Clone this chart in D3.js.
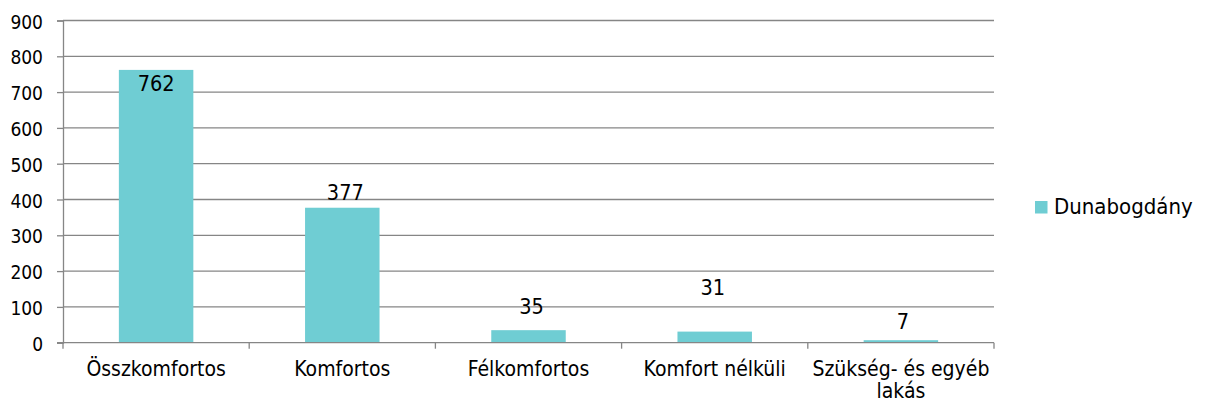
<!DOCTYPE html>
<html>
<head>
<meta charset="utf-8">
<script src="https://cdn.jsdelivr.net/npm/d3@7"></script>
<style>
  html, body { margin: 0; padding: 0; background: #fff; }
  svg { display: block; }
  text { font-family: "DejaVu Sans Condensed", "DejaVu Sans", sans-serif; font-stretch: condensed; fill: #000; }
</style>
</head>
<body>
<div id="chart"></div>
<script>
// Lakásállomány komfortfokozat szerint
const categories = ["Összkomfortos", "Komfortos", "Félkomfortos", "Komfort nélküli", "Szükség- és egyéb lakás"];
const values = [762, 377, 35, 31, 7];
const seriesName = "Dunabogdány";
const yTicks = [0, 100, 200, 300, 400, 500, 600, 700, 800, 900];

// label nudges (px) relative to the bar top, as placed in the source layout
const labelDx = [0, 3, 3, -2, 2];
const labelDy = [13, -15, -24, -44, -19];

const W = 1206, H = 403;
const plot = { left: 63, right: 994, top: 20.5, bottom: 342.7 };
const barColor = "#6fcdd3";
const axisColor = "#868686";

const svg = d3.select("#chart").append("svg")
  .attr("width", W).attr("height", H);

const x = d3.scaleBand(categories, [plot.left, plot.right])
  .paddingInner(0.6).paddingOuter(0.3);
const y = d3.scaleLinear([0, 900], [plot.bottom, plot.top]);

// horizontal gridlines
svg.append("g")
  .selectAll("line").data(yTicks.filter(t => t > 0)).join("line")
  .attr("x1", plot.left).attr("x2", plot.right)
  .attr("y1", d => y(d)).attr("y2", d => y(d))
  .attr("stroke", axisColor).attr("stroke-width", 1.3);

// bars
svg.append("g")
  .selectAll("rect").data(values).join("rect")
  .attr("x", (d, i) => x(categories[i]))
  .attr("width", x.bandwidth())
  .attr("y", d => y(d))
  .attr("height", d => y(0) - y(d))
  .attr("fill", barColor);

// y axis
const yAxis = d3.axisLeft(y).tickValues(yTicks).tickSize(6).tickPadding(14).tickFormat(d3.format("d"));
const gy = svg.append("g").attr("transform", `translate(${plot.left},0)`).call(yAxis);
gy.select(".domain").attr("stroke", axisColor).attr("stroke-width", 1.3);
gy.selectAll(".tick line").attr("stroke", axisColor).attr("stroke-width", 1.3);
gy.selectAll(".tick text").attr("font-size", 19).attr("dy", "0.4em")
  .attr("font-family", null).attr("fill", "#000");
gy.attr("font-family", null).attr("font-size", null);

// x axis line and category boundary ticks
const edges = categories.map(c => x(c) - x.step() * x.paddingOuter()).concat([plot.right]);
svg.append("line")
  .attr("x1", plot.left - 6).attr("x2", plot.right)
  .attr("y1", y(0)).attr("y2", y(0))
  .attr("stroke", axisColor).attr("stroke-width", 1.3);
svg.append("g").selectAll("line").data(edges).join("line")
  .attr("x1", d => d).attr("x2", d => d)
  .attr("y1", y(0)).attr("y2", y(0) + 6)
  .attr("stroke", axisColor).attr("stroke-width", 1.3);

// category labels, wrapped to the category width
const catG = svg.append("g");
categories.forEach(c => {
  const cx = x(c) + x.bandwidth() / 2;
  const t = catG.append("text")
    .attr("x", cx)
    .attr("y", 375.5)
    .attr("text-anchor", "middle")
    .attr("font-size", 21);
  const words = c.split(" ");
  let line = [];
  let tspan = t.append("tspan").attr("x", cx).attr("dy", 0);
  words.forEach(w => {
    line.push(w);
    tspan.text(line.join(" "));
    if (tspan.node().getComputedTextLength() > x.step() - 6 && line.length > 1) {
      line.pop();
      tspan.text(line.join(" "));
      line = [w];
      tspan = t.append("tspan").attr("x", cx).attr("dy", 22).text(w);
    }
  });
});

// value labels
svg.append("g")
  .selectAll("text").data(values).join("text")
  .attr("x", (d, i) => x(categories[i]) + x.bandwidth() / 2 + labelDx[i])
  .attr("y", (d, i) => y(d) + labelDy[i])
  .attr("dy", "0.36em")
  .attr("text-anchor", "middle")
  .attr("font-size", 21.5)
  .text(d => d);

// legend
const lg = svg.append("g").attr("transform", "translate(1035,201)");
lg.append("rect").attr("width", 12.5).attr("height", 12.5).attr("fill", barColor);
lg.append("text").attr("x", 19).attr("y", 13.3).attr("font-size", 22).text(seriesName);
</script>
</body>
</html>
